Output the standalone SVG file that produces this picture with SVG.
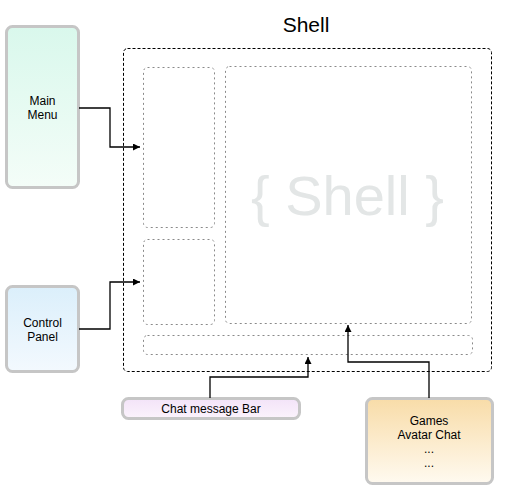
<svg xmlns="http://www.w3.org/2000/svg" width="505" height="496" viewBox="0 0 505 496">
<style>
.box{stroke:#c6c6c6;stroke-width:3}
.lbl{font-family:"Liberation Sans",Arial,sans-serif;font-size:12px;fill:#000;text-anchor:middle}
.outer{fill:none;stroke:#000;stroke-width:1;stroke-dasharray:3,2}
.inner{fill:none;stroke:#8a8a8a;stroke-width:1;stroke-dasharray:2,3}
.conn{fill:none;stroke:#000;stroke-width:1.3}
</style>
<defs>
<linearGradient id="gMain" x1="0" y1="0" x2="0" y2="1"><stop offset="0" stop-color="#d9f8ec"/><stop offset="1" stop-color="#f4fdf8"/></linearGradient>
<linearGradient id="gCtrl" x1="0" y1="0" x2="0" y2="1"><stop offset="0" stop-color="#dbeffb"/><stop offset="1" stop-color="#f3f9fe"/></linearGradient>
<linearGradient id="gChat" x1="0" y1="0" x2="0" y2="1"><stop offset="0" stop-color="#f3e3f8"/><stop offset="1" stop-color="#fbf3fc"/></linearGradient>
<linearGradient id="gGames" x1="0" y1="0" x2="0" y2="1"><stop offset="0" stop-color="#f8dca8"/><stop offset="1" stop-color="#fffaf0"/></linearGradient>
<marker id="arr" viewBox="0 0 10 10" refX="10" refY="5" markerWidth="10" markerHeight="7" markerUnits="userSpaceOnUse" orient="auto"><path d="M0,0 L10,5 L0,10 z" fill="#000"/></marker>
</defs>

<g id="shell">
<text x="306" y="32" font-family="'Liberation Sans',Arial,sans-serif" font-size="21" text-anchor="middle" fill="#000">Shell</text>
<rect class="outer" x="123.5" y="48.5" width="368" height="323" rx="4"/>
<rect class="inner" x="143.5" y="67.5" width="71" height="160" rx="4"/>
<rect class="inner" x="143.5" y="239.5" width="71" height="85" rx="4"/>
<rect class="inner" x="225.5" y="66.5" width="246" height="257" rx="4"/>
<rect class="inner" x="143.5" y="335.5" width="329" height="19" rx="4"/>
<text x="347.5" y="215" font-family="'Liberation Sans',Arial,sans-serif" font-size="56" text-anchor="middle" fill="#e3e6e6">{ Shell }</text>
</g>

<g id="mainmenu">
<rect class="box" x="6.5" y="26.5" width="72" height="161" rx="6" fill="url(#gMain)"/>
<text class="lbl" x="42.5" y="105">Main</text>
<text class="lbl" x="42.5" y="119">Menu</text>
</g>

<g id="controlpanel">
<rect class="box" x="6.5" y="286.5" width="72" height="85" rx="6" fill="url(#gCtrl)"/>
<text class="lbl" x="42.5" y="327">Control</text>
<text class="lbl" x="42.5" y="341">Panel</text>
</g>

<g id="chatbar">
<rect class="box" x="122.5" y="398.5" width="177" height="20" rx="6" fill="url(#gChat)"/>
<text class="lbl" x="211" y="413">Chat message Bar</text>
</g>

<g id="games">
<rect class="box" x="366.5" y="398.5" width="126" height="85" rx="6" fill="url(#gGames)"/>
<text class="lbl" x="429" y="425">Games</text>
<text class="lbl" x="429" y="439">Avatar Chat</text>
<text class="lbl" x="429" y="453">...</text>
<text class="lbl" x="429" y="467">...</text>
</g>

<g id="connectors">
<path class="conn" d="M79,108 H110 V147 H140" marker-end="url(#arr)"/>
<path class="conn" d="M79,329 H110 V282 H140" marker-end="url(#arr)"/>
<path class="conn" d="M210,398 V377 H308 V357" marker-end="url(#arr)"/>
<path class="conn" d="M429,398 V362 H348 V325" marker-end="url(#arr)"/>
</g>
</svg>
